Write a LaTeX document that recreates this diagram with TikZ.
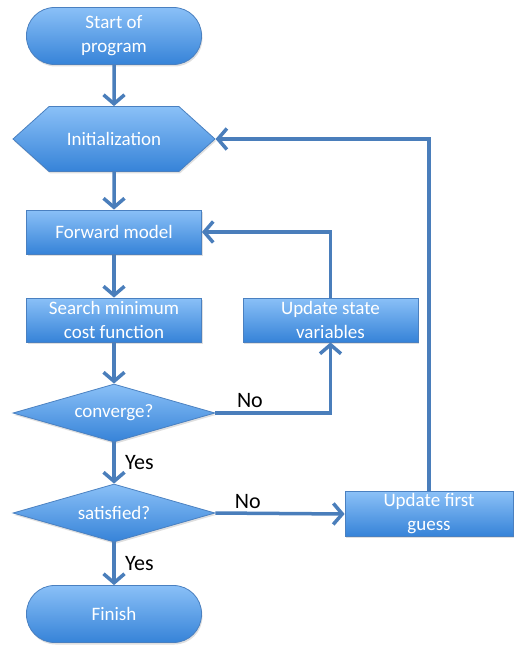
\documentclass[tikz,border=0pt]{standalone}
\usepackage{fontspec}
\setmainfont{Carlito}
\usetikzlibrary{shapes.geometric,shapes.symbols,arrows.meta,shadows}
\definecolor{boxtop}{HTML}{8AC0F7}
\definecolor{boxbot}{HTML}{3683D8}
\definecolor{boxline}{HTML}{4A80C0}
\definecolor{flowline}{HTML}{4A7EBB}
\tikzset{
  box/.style={draw=boxline, line width=.8pt, top color=boxtop, bottom color=boxbot,
    text=white, align=center, font=\fontsize{19}{24}\selectfont, inner sep=2pt,
    drop shadow={opacity=.25, shadow xshift=1pt, shadow yshift=-2pt}},
  process/.style={box, rectangle, minimum width=175, minimum height=44},
  terminal/.style={box, rectangle, rounded corners=28, minimum width=175, minimum height=57},
  decision/.style={box, diamond, minimum width=202, minimum height=58, aspect=3.5},
  prep/.style={box, signal, signal to=west and east, signal pointer angle=84,
    minimum width=202, minimum height=65},
  flow/.style={draw=flowline, line width=3.5pt, -{Straight Barb[length=9pt,width=21pt]}},
  answer/.style={text=black, font=\fontsize{22}{24}\selectfont}
}
\begin{document}
\begin{tikzpicture}[x=1pt, y=-1pt]
        \useasboundingbox (0,0) rectangle (514,647);
        % main column
        \node[terminal] (start) at (114, 36) {Start of\\program};
        \node[prep] (init) at (114, 139) {Initialization};
        \node[process] (fwd) at (114, 232) {Forward model};
        \node[process] (search) at (114, 320) {Search minimum\\cost function};
        \node[decision] (conv) at (114, 413) {converge?};
        \node[decision] (sat) at (114, 513) {satisfied?};
        \node[terminal] (finish) at (114, 614) {Finish};
        % update boxes
        \node[process] (state) at (330.5, 320) {Update state\\variables};
        \node[process, minimum width=168] (guess) at (429, 514) {Update first\\guess};
        % straight connectors
        \draw[flow] (start) -- (init);
        \draw[flow] (init) -- (fwd);
        \draw[flow] (fwd) -- (search);
        \draw[flow] (search) -- (conv);
        \draw[flow] (conv) -- node[answer, right=6pt] {Yes} (sat);
        \draw[flow] (sat) -- node[answer, right=6pt] {Yes} (finish);
        % loops back
        \draw[flow] (conv.east) -| node[answer, pos=.15, above] {No} (state.south);
        \draw[flow] (state.north) |- (fwd.east);
        \draw[flow] (sat.east) -- node[answer, pos=.25, above] {No} (guess.west);
        \draw[flow] (guess.north) |- (init.east);
\end{tikzpicture}
\end{document}
